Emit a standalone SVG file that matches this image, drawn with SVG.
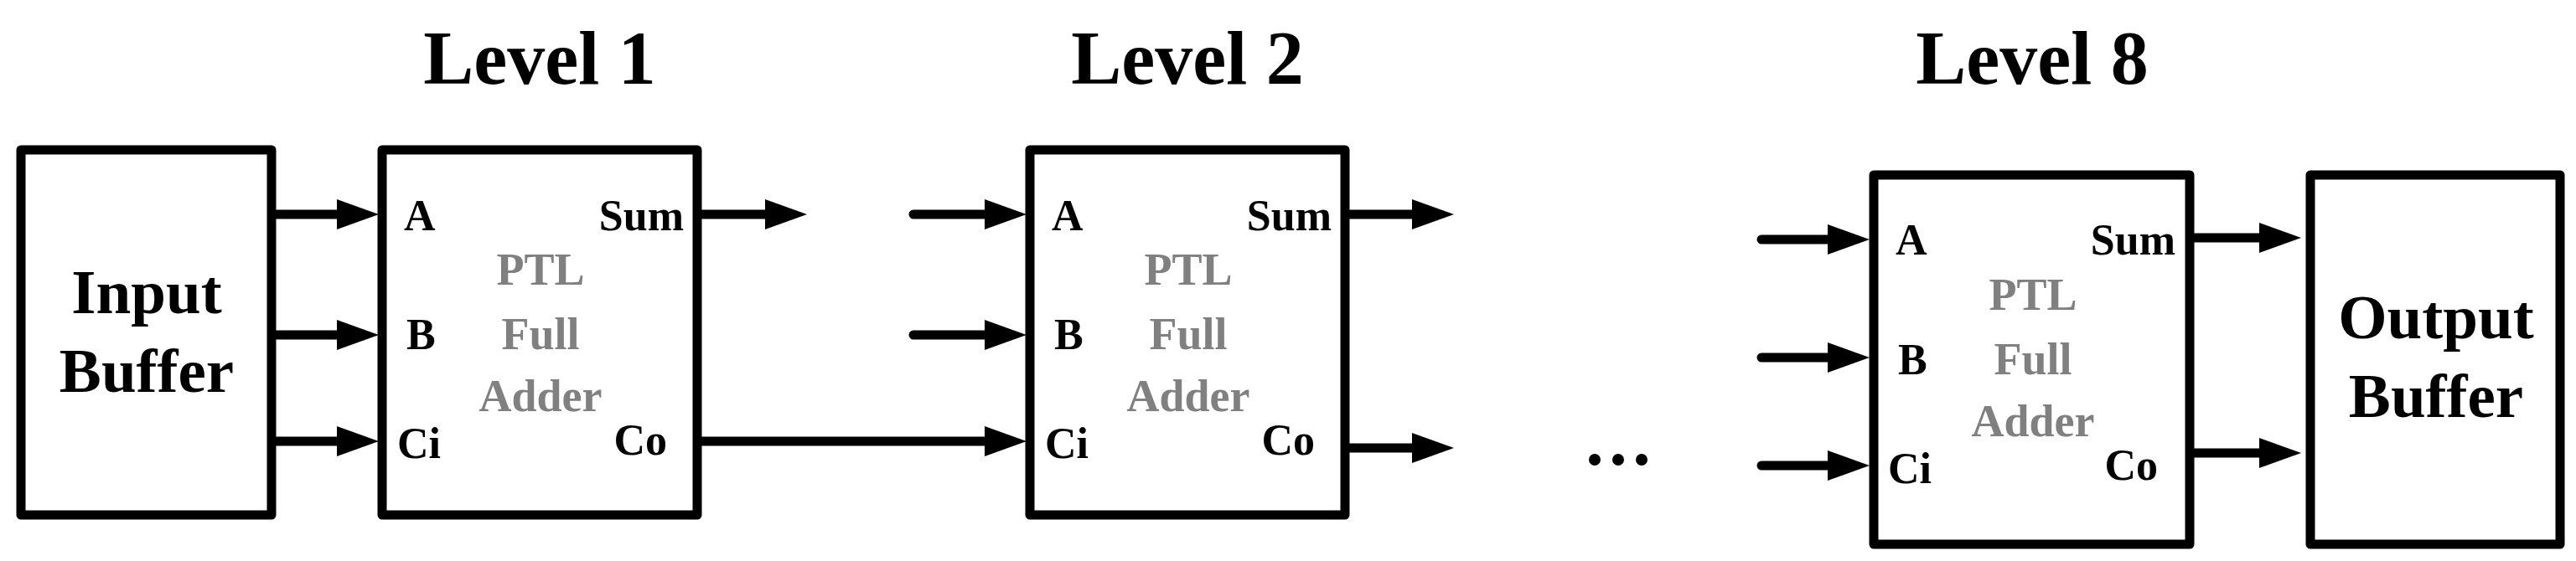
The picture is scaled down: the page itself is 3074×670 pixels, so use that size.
<svg xmlns="http://www.w3.org/2000/svg" width="3074" height="670" viewBox="0 0 3074 670">
<style>
.box{fill:#fff;stroke:#000;stroke-width:11;stroke-linejoin:round}
.w{stroke:#000;stroke-width:11;fill:none;stroke-linecap:round}
.t{font-family:"Liberation Serif",serif;font-weight:bold;fill:#000}
.p{font-size:52px}
.g{font-size:54px;fill:#808080;text-anchor:middle}
.big{font-size:75px;text-anchor:middle}
.title{font-size:90px;text-anchor:middle}
</style>
<defs>
<marker id="ah" markerUnits="userSpaceOnUse" viewBox="0 0 50 36" markerWidth="50" markerHeight="36" refX="1" refY="18" orient="auto">
<path d="M0,0 L50,18 L0,36 Z" fill="#000"/>
</marker>
</defs>
<g id="input-buffer">
<rect class="box" x="25" y="179" width="299" height="436"/>
<text class="t big" x="175" y="374">Input</text>
<text class="t big" x="175" y="468">Buffer</text>
</g>
<g id="level1">
<text class="t title" x="644" y="100">Level 1</text>
<rect class="box" x="456" y="179" width="376" height="436"/>
<text class="t p" x="482" y="275">A</text>
<text class="t p" x="485" y="417">B</text>
<text class="t p" x="474" y="547">Ci</text>
<text class="t p" x="816" y="275" text-anchor="end">Sum</text>
<text class="t p" x="796" y="543" text-anchor="end">Co</text>
<text class="t g" x="645" y="340">PTL</text>
<text class="t g" x="645" y="417">Full</text>
<text class="t g" x="645" y="491">Adder</text>
</g>
<g id="level2">
<text class="t title" x="1417" y="100">Level 2</text>
<rect class="box" x="1229" y="179" width="376" height="436"/>
<text class="t p" x="1255" y="275">A</text>
<text class="t p" x="1258" y="417">B</text>
<text class="t p" x="1247" y="547">Ci</text>
<text class="t p" x="1589" y="275" text-anchor="end">Sum</text>
<text class="t p" x="1569" y="543" text-anchor="end">Co</text>
<text class="t g" x="1418" y="340">PTL</text>
<text class="t g" x="1418" y="417">Full</text>
<text class="t g" x="1418" y="491">Adder</text>
</g>
<g id="ellipsis">
<circle cx="1903" cy="549" r="7"/>
<circle cx="1931" cy="549" r="7"/>
<circle cx="1959" cy="549" r="7"/>
</g>
<g id="level8">
<text class="t title" x="2425" y="100">Level 8</text>
<rect class="box" x="2236" y="209" width="377" height="441"/>
<text class="t p" x="2262" y="304">A</text>
<text class="t p" x="2265" y="447">B</text>
<text class="t p" x="2253" y="577">Ci</text>
<text class="t p" x="2596" y="304" text-anchor="end">Sum</text>
<text class="t p" x="2575" y="573" text-anchor="end">Co</text>
<text class="t g" x="2426" y="370">PTL</text>
<text class="t g" x="2426" y="447">Full</text>
<text class="t g" x="2426" y="521">Adder</text>
</g>
<g id="output-buffer">
<rect class="box" x="2757" y="209" width="298" height="441"/>
<text class="t big" x="2907" y="404">Output</text>
<text class="t big" x="2907" y="498">Buffer</text>
</g>
<g id="connectors">
<line class="w" x1="330" y1="256" x2="403" y2="256" marker-end="url(#ah)"/>
<line class="w" x1="330" y1="400" x2="403" y2="400" marker-end="url(#ah)"/>
<line class="w" x1="330" y1="527" x2="403" y2="527" marker-end="url(#ah)"/>
<line class="w" x1="838" y1="256" x2="914" y2="256" marker-end="url(#ah)"/>
<line class="w" x1="838" y1="527" x2="1176" y2="527" marker-end="url(#ah)"/>
<line class="w" x1="1090" y1="256" x2="1176" y2="256" marker-end="url(#ah)"/>
<line class="w" x1="1090" y1="400" x2="1176" y2="400" marker-end="url(#ah)"/>
<line class="w" x1="1611" y1="256" x2="1686" y2="256" marker-end="url(#ah)"/>
<line class="w" x1="1611" y1="535" x2="1686" y2="535" marker-end="url(#ah)"/>
<line class="w" x1="2102" y1="286" x2="2182" y2="286" marker-end="url(#ah)"/>
<line class="w" x1="2102" y1="427" x2="2182" y2="427" marker-end="url(#ah)"/>
<line class="w" x1="2102" y1="556" x2="2182" y2="556" marker-end="url(#ah)"/>
<line class="w" x1="2619" y1="284" x2="2697" y2="284" marker-end="url(#ah)"/>
<line class="w" x1="2619" y1="541" x2="2697" y2="541" marker-end="url(#ah)"/>
</g>
</svg>
